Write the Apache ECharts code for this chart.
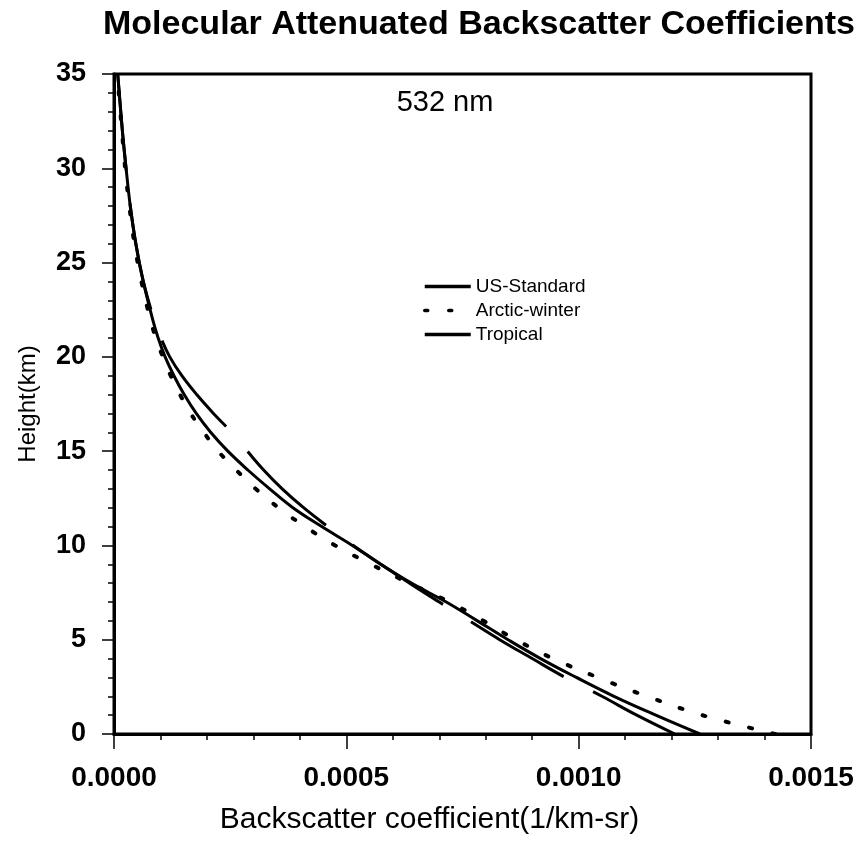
<!DOCTYPE html>
<html>
<head>
<meta charset="utf-8">
<script src="https://cdn.jsdelivr.net/npm/echarts@6/dist/echarts.min.js"></script>
<style>
html,body{margin:0;padding:0;background:#fff;}
#chart{width:860px;height:863px;}
</style>
</head>
<body>
<div id="chart"></div>
<script>
// Heights (km)
const heights = [0,1,2,3,4,5,6,7,8,9,10,11,12,13,14,15,16,17,18,19,20,21,22,24,26,28,30,32,35];
// Backscatter coefficient (1/km-sr)
const usStandard = [1.261e-3,1.166e-3,1.076e-3,0.995e-3,0.918e-3,0.848e-3,0.782e-3,0.715e-3,0.640e-3,0.574e-3,0.513e-3,0.447e-3,0.385e-3,0.335e-3,0.288e-3,0.245e-3,0.208e-3,0.177e-3,0.151e-3,0.129e-3,0.110e-3,0.095e-3,0.083e-3,0.063e-3,0.047e-3,0.035e-3,0.026e-3,0.018e-3,0.008e-3];
const arcticWinter = [1.423e-3,1.266e-3,1.147e-3,1.041e-3,0.945e-3,0.865e-3,0.795e-3,0.722e-3,0.635e-3,0.553e-3,0.476e-3,0.411e-3,0.354e-3,0.305e-3,0.263e-3,0.224e-3,0.193e-3,0.165e-3,0.142e-3,0.122e-3,0.105e-3,0.090e-3,0.078e-3,0.059e-3,0.044e-3,0.033e-3,0.024e-3,0.017e-3,0.007e-3];
const tropical = [1.207e-3,1.125e-3,1.050e-3,0.971e-3,0.900e-3,0.830e-3,0.765e-3,0.700e-3,0.636e-3,0.574e-3,0.515e-3,0.460e-3,0.408e-3,0.362e-3,0.322e-3,0.287e-3,0.253e-3,0.214e-3,0.178e-3,0.146e-3,0.120e-3,0.101e-3,0.086e-3,0.063e-3,0.047e-3,0.035e-3,0.026e-3,0.018e-3,0.008e-3];
const seriesNames = ['US-Standard','Arctic-winter','Tropical'];
const xTicks = {min:0, max:0.0015, interval:0.0005};
const yTicks = {min:0, max:35, interval:5};

const pair = arr => arr.map((v,i)=>[v, heights[i]]);
const FONT = '"Liberation Sans", Arial, Helvetica, sans-serif';

const chart = echarts.init(document.getElementById('chart'), null, {renderer:'canvas'});
chart.setOption({
  animation:false,
  backgroundColor:'#fff',
  title:[
    {text:'Molecular Attenuated Backscatter Coefficients', left:474, top:3, textAlign:'center',
     textStyle:{fontFamily:FONT, fontWeight:'bold', fontSize:34, color:'#000'}},
    {text:'532 nm', left:440, top:83, textAlign:'center',
     textStyle:{fontFamily:FONT, fontWeight:'normal', fontSize:29, color:'#000'}}
  ],
  legend:{
    orient:'vertical', left:418, top:272, itemGap:5, itemWidth:46, itemHeight:18,
    data:seriesNames,
    itemStyle:{opacity:0},
    lineStyle:{width:3.5},
    textStyle:{fontFamily:FONT, fontSize:19, color:'#000'}
  },
  grid:{left:114, right:49, top:74, bottom:129, show:true, borderColor:'#000', borderWidth:3, backgroundColor:'transparent'},
  xAxis:{
    type:'value', min:xTicks.min, max:xTicks.max, interval:xTicks.interval,
    name:'Backscatter coefficient(1/km-sr)', nameLocation:'middle', nameGap:71,
    nameTextStyle:{fontFamily:FONT, fontSize:30, color:'#000', padding:[0,66,0,0]},
    axisLine:{show:true, lineStyle:{color:'#000', width:3}},
    axisTick:{show:true, inside:false, length:15, lineStyle:{color:'#000', width:1.5}},
    minorTick:{show:true, splitNumber:5, length:6, lineStyle:{color:'#000', width:1.5}},
    splitLine:{show:false},
    axisLabel:{margin:30, fontFamily:FONT, fontWeight:'bold', fontSize:28, color:'#000',
      formatter:v=>v.toFixed(4)}
  },
  yAxis:{
    type:'value', min:yTicks.min, max:yTicks.max, interval:yTicks.interval,
    name:'Height(km)', nameLocation:'middle', nameGap:74, nameRotate:90,
    nameTextStyle:{fontFamily:FONT, fontSize:24, color:'#000'},
    axisLine:{show:true, lineStyle:{color:'#000', width:3}},
    axisTick:{show:true, inside:false, length:12, lineStyle:{color:'#000', width:1.5}},
    minorTick:{show:true, splitNumber:5, length:6, lineStyle:{color:'#000', width:1.5}},
    splitLine:{show:false},
    axisLabel:{margin:28, fontFamily:FONT, fontWeight:'bold', fontSize:27, color:'#000'}
  },
  series:[
    {name:seriesNames[0], type:'line', data:pair(usStandard), smooth:0.4, symbol:'none',
     lineStyle:{color:'#000', width:3}, itemStyle:{color:'#000'}},
    {name:seriesNames[1], type:'line', data:pair(arcticWinter), smooth:0.4, symbol:'none',
     lineStyle:{color:'#000', width:4, type:[3,21], cap:'round'}, itemStyle:{color:'#000'}},
    {name:seriesNames[2], type:'line', data:pair(tropical), smooth:0.4, symbol:'none',
     lineStyle:{color:'#000', width:3, type:[108,33], dashOffset:16}, itemStyle:{color:'#000'}}
  ]
});
</script>
</body>
</html>
